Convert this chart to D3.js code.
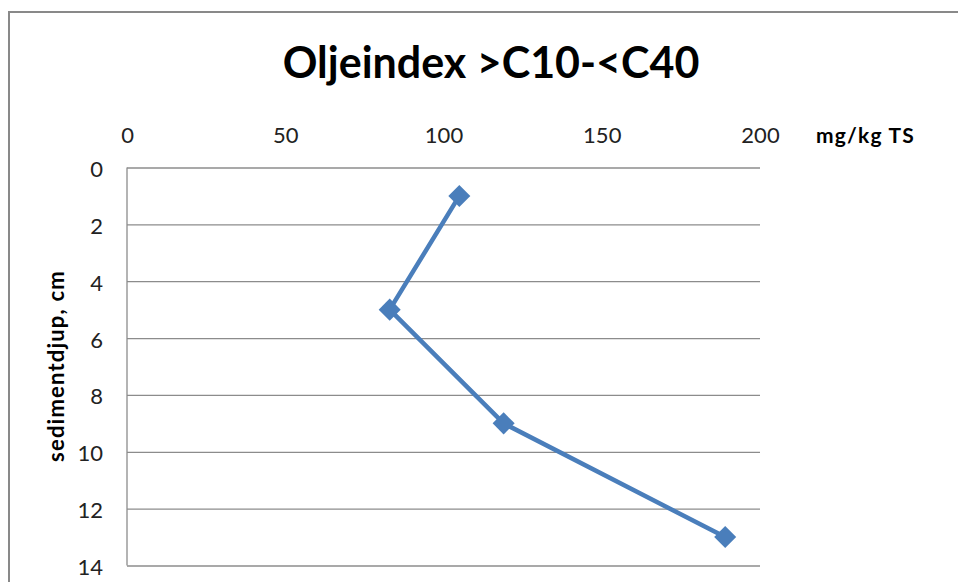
<!DOCTYPE html>
<html><head><meta charset="utf-8">
<script src="https://cdn.jsdelivr.net/npm/d3@7"></script>
<style>body{margin:0;background:#fff;}svg{display:block;}</style>
</head><body>
<script>
const depths = [1, 5, 9, 13];
const values = [105, 83, 119, 189];
const xTicks = [0, 50, 100, 150, 200];
const yTicks = [0, 2, 4, 6, 8, 10, 12, 14];
const title = "Oljeindex >C10-<C40";
const xTitle = "mg/kg TS";
const yTitle = "sedimentdjup, cm";

const W = 958, H = 582;
const svg = d3.select("body").append("svg").attr("width", W).attr("height", H);
const font = "Lato, 'Open Sans', sans-serif";

svg.append("rect").attr("x", 9).attr("y", 12).attr("width", 1000).attr("height", 1000)
  .attr("fill", "#fff").attr("stroke", "#898989").attr("stroke-width", 2);

const x = d3.scaleLinear().domain([0, 200]).range([127, 760]);
const y = d3.scaleLinear().domain([0, 14]).range([167.5, 565.5]);

svg.append("text").attr("x", 491).attr("y", 78).attr("text-anchor", "middle")
  .attr("font-family", font).attr("font-weight", "bold").attr("font-size", 43)
  .attr("fill", "#000").text(title);

// gridlines
const gy = svg.append("g").attr("transform", "translate(127,0)")
  .call(d3.axisLeft(y).tickValues(yTicks).tickSize(-633).tickFormat(""));
gy.select(".domain").remove();
gy.selectAll(".tick line").attr("stroke", "#8c8c8c").attr("stroke-width", 1.3);
svg.append("line").attr("x1", 127).attr("x2", 127).attr("y1", y(0)).attr("y2", y(14))
  .attr("stroke", "#8c8c8c").attr("stroke-width", 1.3);

// y tick labels
const yl = svg.append("g").attr("transform", "translate(103,2)")
  .call(d3.axisLeft(y).tickValues(yTicks).tickSize(0).tickPadding(0).tickFormat(d3.format("d")));
yl.select(".domain").remove();
yl.selectAll("text").attr("font-family", font).attr("font-size", 22).attr("fill", "#222");

// x tick labels
const xl = svg.append("g").attr("transform", "translate(0,135)")
  .call(d3.axisTop(x).tickValues(xTicks).tickSize(0).tickPadding(0).tickFormat(d3.format("d")));
xl.select(".domain").remove();
xl.selectAll("text").attr("font-family", font).attr("font-size", 22).attr("fill", "#222")
  .attr("dy", "0.35em");

svg.append("text").attr("x", 816).attr("y", 143)
  .attr("font-family", font).attr("font-weight", "bold").attr("font-size", 21)
  .attr("letter-spacing", 1.2).attr("fill", "#000").text(xTitle);

svg.append("text").attr("transform", "translate(64,366) rotate(-90)").attr("text-anchor", "middle")
  .attr("font-family", font).attr("font-weight", "bold").attr("font-size", 22)
  .attr("letter-spacing", 1.2).attr("fill", "#000").text(yTitle);

const data = depths.map((d, i) => ({depth: d, value: values[i]}));
const line = d3.line().x(d => x(d.value)).y(d => y(d.depth));
svg.append("path").datum(data).attr("d", line).attr("fill", "none")
  .attr("stroke", "#4a7ebb").attr("stroke-width", 4.5).attr("stroke-linejoin", "round");

svg.selectAll(".pt").data(data).enter().append("path")
  .attr("transform", d => `translate(${x(d.value)},${y(d.depth)})`)
  .attr("d", d3.symbol().type(d3.symbolDiamond2).size(310))
  .attr("fill", "#4a7ebb");
</script>
</body></html>
